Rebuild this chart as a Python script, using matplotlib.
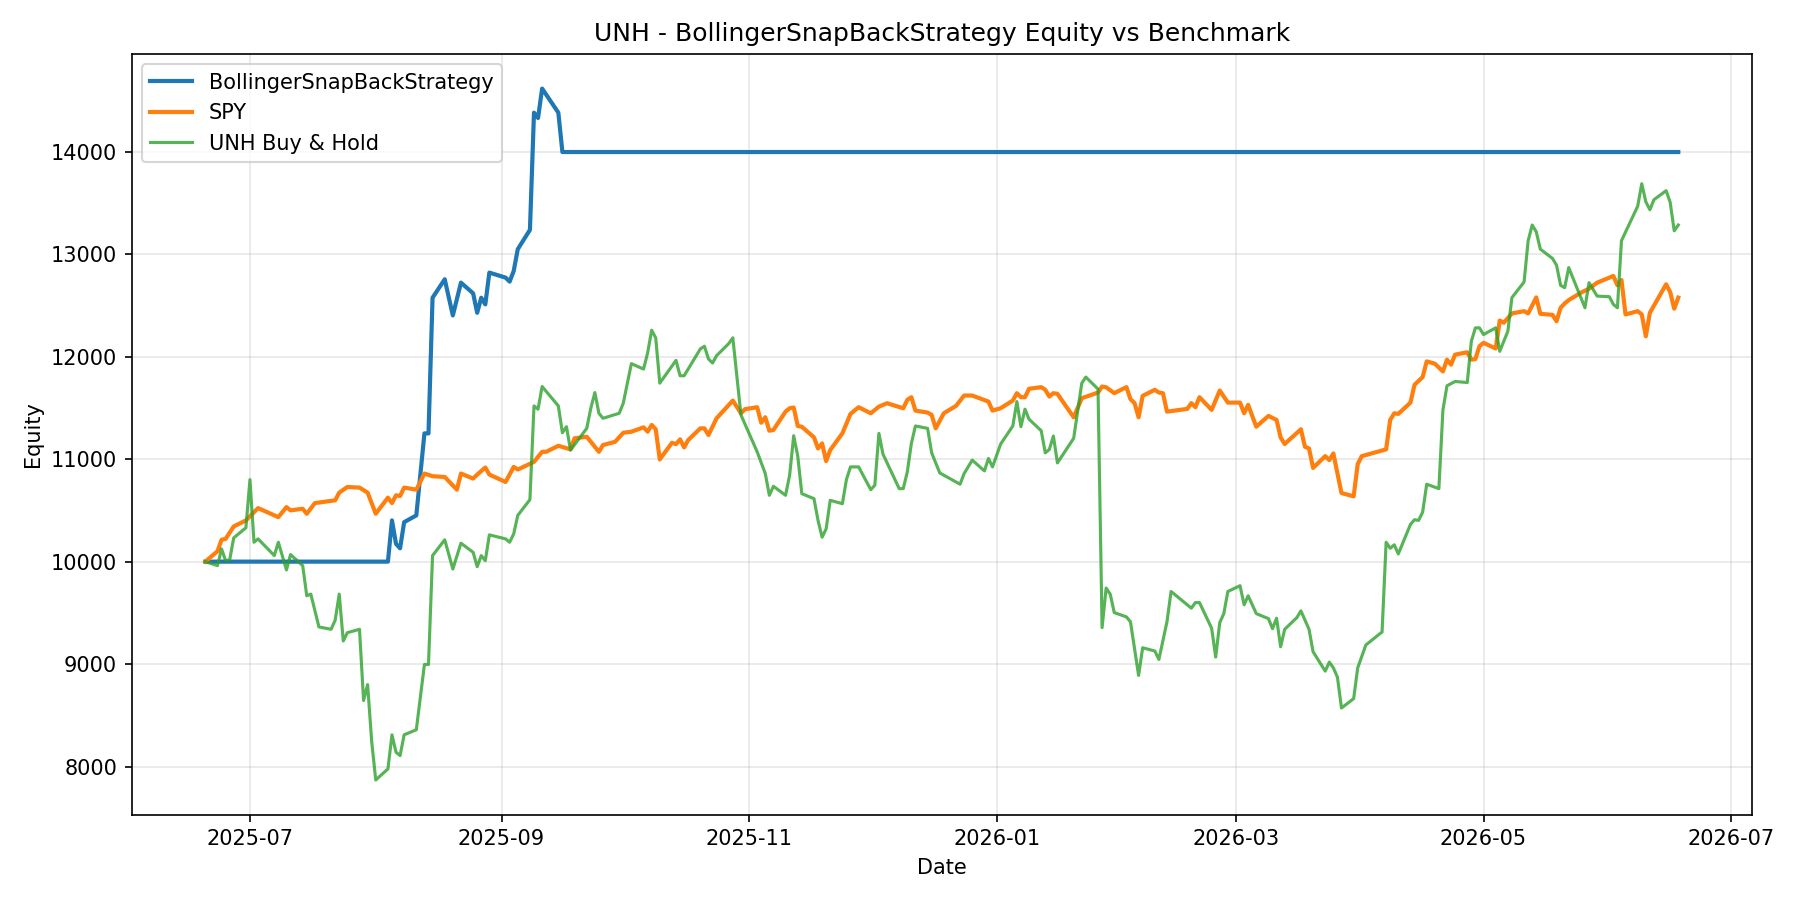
import matplotlib
matplotlib.use("Agg")
import matplotlib.pyplot as plt
import pandas as pd

# strategy equity (step points)
strat_dates = ["2025-06-20", "2025-08-04", "2025-08-05", "2025-08-06", "2025-08-07", "2025-08-08",
               "2025-08-11", "2025-08-13", "2025-08-14", "2025-08-15", "2025-08-18", "2025-08-20",
               "2025-08-22", "2025-08-25", "2025-08-26", "2025-08-27", "2025-08-28", "2025-08-29",
               "2025-09-02", "2025-09-03", "2025-09-04", "2025-09-05", "2025-09-08", "2025-09-09",
               "2025-09-10", "2025-09-11", "2025-09-15", "2025-09-16", "2026-06-18"]
strat_vals = [10000, 10000, 10402, 10173, 10130, 10385, 10451, 11251, 11251, 12574, 12754, 12401,
              12721, 12617, 12427, 12574, 12509, 12819, 12770, 12731, 12835, 13047, 13236, 14379,
              14327, 14614, 14379, 13995, 13995]

spy_dates = ["2025-06-20", "2025-06-23", "2025-06-24", "2025-06-25", "2025-06-27", "2025-06-30",
             "2025-07-03", "2025-07-08", "2025-07-10", "2025-07-11", "2025-07-14", "2025-07-15",
             "2025-07-17", "2025-07-22", "2025-07-23", "2025-07-25", "2025-07-28", "2025-07-30",
             "2025-08-01", "2025-08-04", "2025-08-05", "2025-08-06", "2025-08-07", "2025-08-08",
             "2025-08-11", "2025-08-13", "2025-08-15", "2025-08-18", "2025-08-21", "2025-08-22",
             "2025-08-25", "2025-08-26", "2025-08-28", "2025-08-29", "2025-09-02", "2025-09-04",
             "2025-09-05", "2025-09-09", "2025-09-11", "2025-09-12", "2025-09-15", "2025-09-18",
             "2025-09-19", "2025-09-22", "2025-09-25", "2025-09-26", "2025-09-29", "2025-10-01",
             "2025-10-03", "2025-10-06", "2025-10-07", "2025-10-08", "2025-10-09", "2025-10-10",
             "2025-10-13", "2025-10-14", "2025-10-15", "2025-10-16", "2025-10-17", "2025-10-20",
             "2025-10-21", "2025-10-22", "2025-10-24", "2025-10-28", "2025-10-30", "2025-10-31",
             "2025-11-03", "2025-11-04", "2025-11-05", "2025-11-06", "2025-11-07", "2025-11-10",
             "2025-11-11", "2025-11-12", "2025-11-13", "2025-11-14", "2025-11-17", "2025-11-18",
             "2025-11-19", "2025-11-20", "2025-11-21", "2025-11-24", "2025-11-26", "2025-11-28",
             "2025-12-01", "2025-12-03", "2025-12-05", "2025-12-09", "2025-12-10", "2025-12-11",
             "2025-12-12", "2025-12-15", "2025-12-16", "2025-12-17", "2025-12-19", "2025-12-22",
             "2025-12-24", "2025-12-26", "2025-12-30", "2025-12-31", "2026-01-02", "2026-01-05",
             "2026-01-06", "2026-01-07", "2026-01-08", "2026-01-09", "2026-01-12", "2026-01-13",
             "2026-01-14", "2026-01-15", "2026-01-16", "2026-01-20", "2026-01-22", "2026-01-26",
             "2026-01-27", "2026-01-28", "2026-01-30", "2026-02-02", "2026-02-03", "2026-02-04",
             "2026-02-05", "2026-02-06", "2026-02-09", "2026-02-10", "2026-02-11", "2026-02-12",
             "2026-02-17", "2026-02-18", "2026-02-19", "2026-02-20", "2026-02-23", "2026-02-25",
             "2026-02-27", "2026-03-02", "2026-03-03", "2026-03-04", "2026-03-06", "2026-03-09",
             "2026-03-11", "2026-03-12", "2026-03-13", "2026-03-17", "2026-03-18", "2026-03-19",
             "2026-03-20", "2026-03-23", "2026-03-24", "2026-03-25", "2026-03-27", "2026-03-30",
             "2026-03-31", "2026-04-01", "2026-04-07", "2026-04-08", "2026-04-09", "2026-04-10",
             "2026-04-13", "2026-04-14", "2026-04-16", "2026-04-17", "2026-04-19", "2026-04-21",
             "2026-04-22", "2026-04-23", "2026-04-24", "2026-04-27", "2026-04-28", "2026-04-29",
             "2026-04-30", "2026-05-01", "2026-05-04", "2026-05-05", "2026-05-06", "2026-05-08",
             "2026-05-11", "2026-05-12", "2026-05-14", "2026-05-15", "2026-05-18", "2026-05-19",
             "2026-05-20", "2026-05-21", "2026-05-22", "2026-05-25", "2026-05-27", "2026-05-29",
             "2026-06-02", "2026-06-03", "2026-06-04", "2026-06-05", "2026-06-08", "2026-06-09",
             "2026-06-10", "2026-06-11", "2026-06-15", "2026-06-16", "2026-06-17", "2026-06-18"]
spy_vals = [10000, 10101, 10213, 10222, 10343, 10402, 10522, 10434, 10532, 10500, 10516, 10467,
            10571, 10598, 10673, 10728, 10722, 10673, 10467, 10624, 10571, 10647, 10640, 10722,
            10702, 10859, 10833, 10826, 10702, 10859, 10810, 10849, 10918, 10849, 10777, 10924,
            10898, 10973, 11071, 11071, 11130, 11095, 11203, 11218, 11071, 11137, 11169, 11257,
            11267, 11310, 11267, 11333, 11291, 10997, 11159, 11146, 11193, 11114, 11186, 11300,
            11300, 11235, 11398, 11571, 11447, 11487, 11506, 11355, 11408, 11277, 11284, 11463,
            11496, 11503, 11323, 11316, 11212, 11104, 11153, 10980, 11088, 11251, 11441, 11506,
            11447, 11512, 11545, 11496, 11578, 11604, 11473, 11454, 11431, 11300, 11447, 11519,
            11620, 11620, 11561, 11473, 11496, 11571, 11643, 11604, 11604, 11686, 11702, 11676,
            11610, 11643, 11636, 11408, 11594, 11649, 11708, 11701, 11643, 11702, 11585, 11546,
            11408, 11617, 11676, 11649, 11643, 11463, 11490, 11546, 11506, 11604, 11480, 11669,
            11551, 11551, 11447, 11529, 11316, 11421, 11382, 11212, 11147, 11291, 11120, 11104,
            10914, 11029, 10990, 11055, 10669, 10637, 10951, 11029, 11095, 11382, 11447, 11441,
            11551, 11725, 11800, 11953, 11931, 11855, 11970, 11921, 12019, 12042, 11970, 11976,
            12101, 12134, 12079, 12352, 12330, 12421, 12443, 12421, 12577, 12417, 12407, 12345,
            12476, 12518, 12551, 12623, 12662, 12721, 12786, 12695, 12747, 12411, 12443, 12411,
            12198, 12427, 12705, 12630, 12467, 12575]

unh_dates = ["2025-06-20", "2025-06-23", "2025-06-24", "2025-06-25", "2025-06-26", "2025-06-27",
             "2025-06-30", "2025-07-01", "2025-07-02", "2025-07-03", "2025-07-07", "2025-07-08",
             "2025-07-10", "2025-07-11", "2025-07-14", "2025-07-15", "2025-07-16", "2025-07-18",
             "2025-07-21", "2025-07-22", "2025-07-23", "2025-07-24", "2025-07-25", "2025-07-28",
             "2025-07-29", "2025-07-30", "2025-07-31", "2025-08-01", "2025-08-04", "2025-08-05",
             "2025-08-06", "2025-08-07", "2025-08-08", "2025-08-11", "2025-08-13", "2025-08-14",
             "2025-08-15", "2025-08-18", "2025-08-20", "2025-08-22", "2025-08-25", "2025-08-26",
             "2025-08-27", "2025-08-28", "2025-08-29", "2025-09-02", "2025-09-03", "2025-09-04",
             "2025-09-05", "2025-09-08", "2025-09-09", "2025-09-10", "2025-09-11", "2025-09-15",
             "2025-09-16", "2025-09-17", "2025-09-18", "2025-09-22", "2025-09-23", "2025-09-24",
             "2025-09-25", "2025-09-26", "2025-09-30", "2025-10-01", "2025-10-03", "2025-10-06",
             "2025-10-07", "2025-10-08", "2025-10-09", "2025-10-10", "2025-10-14", "2025-10-15",
             "2025-10-16", "2025-10-20", "2025-10-21", "2025-10-22", "2025-10-23", "2025-10-24",
             "2025-10-27", "2025-10-28", "2025-10-30", "2025-11-03", "2025-11-05", "2025-11-06",
             "2025-11-07", "2025-11-10", "2025-11-11", "2025-11-12", "2025-11-13", "2025-11-14",
             "2025-11-17", "2025-11-18", "2025-11-19", "2025-11-20", "2025-11-21", "2025-11-24",
             "2025-11-25", "2025-11-26", "2025-11-28", "2025-12-01", "2025-12-02", "2025-12-03",
             "2025-12-04", "2025-12-08", "2025-12-09", "2025-12-10", "2025-12-11", "2025-12-12",
             "2025-12-15", "2025-12-16", "2025-12-17", "2025-12-18", "2025-12-23", "2025-12-24",
             "2025-12-26", "2025-12-29", "2025-12-30", "2025-12-31", "2026-01-02", "2026-01-05",
             "2026-01-06", "2026-01-07", "2026-01-08", "2026-01-09", "2026-01-12", "2026-01-13",
             "2026-01-14", "2026-01-15", "2026-01-16", "2026-01-20", "2026-01-22", "2026-01-23",
             "2026-01-26", "2026-01-27", "2026-01-28", "2026-01-29", "2026-01-30", "2026-02-02",
             "2026-02-03", "2026-02-05", "2026-02-06", "2026-02-09", "2026-02-10", "2026-02-12",
             "2026-02-13", "2026-02-18", "2026-02-19", "2026-02-20", "2026-02-23", "2026-02-24",
             "2026-02-25", "2026-02-26", "2026-02-27", "2026-03-02", "2026-03-03", "2026-03-04",
             "2026-03-06", "2026-03-09", "2026-03-10", "2026-03-11", "2026-03-12", "2026-03-13",
             "2026-03-16", "2026-03-17", "2026-03-19", "2026-03-20", "2026-03-23", "2026-03-24",
             "2026-03-25", "2026-03-26", "2026-03-27", "2026-03-30", "2026-03-31", "2026-04-02",
             "2026-04-06", "2026-04-07", "2026-04-08", "2026-04-09", "2026-04-10", "2026-04-13",
             "2026-04-14", "2026-04-15", "2026-04-16", "2026-04-17", "2026-04-20", "2026-04-21",
             "2026-04-22", "2026-04-24", "2026-04-27", "2026-04-28", "2026-04-29", "2026-04-30",
             "2026-05-01", "2026-05-04", "2026-05-05", "2026-05-07", "2026-05-08", "2026-05-11",
             "2026-05-12", "2026-05-13", "2026-05-14", "2026-05-15", "2026-05-18", "2026-05-19",
             "2026-05-20", "2026-05-21", "2026-05-22", "2026-05-26", "2026-05-27", "2026-05-29",
             "2026-06-01", "2026-06-02", "2026-06-03", "2026-06-04", "2026-06-08", "2026-06-09",
             "2026-06-10", "2026-06-11", "2026-06-12", "2026-06-15", "2026-06-16", "2026-06-17",
             "2026-06-18"]
unh_vals = [10000, 9961, 10124, 10010, 10016, 10232, 10330, 10800, 10189, 10222, 10059, 10189,
            9919, 10069, 9961, 9667, 9683, 9363, 9340, 9429, 9683, 9226, 9307, 9340,
            8645, 8801, 8246, 7870, 7978, 8311, 8141, 8108, 8311, 8360, 8997, 8997,
            10059, 10213, 9928, 10180, 10091, 9951, 10059, 10010, 10261, 10222, 10189, 10271,
            10451, 10605, 11519, 11487, 11708, 11519, 11257, 11316, 11088, 11300, 11496, 11649,
            11447, 11398, 11447, 11545, 11931, 11878, 12035, 12257, 12182, 11741, 11963, 11813,
            11813, 12075, 12101, 11977, 11937, 12009, 12127, 12183, 11431, 11071, 10859, 10647,
            10735, 10647, 10843, 11228, 11029, 10663, 10614, 10402, 10238, 10320, 10598, 10565,
            10801, 10924, 10924, 10702, 10745, 11251, 11049, 10712, 10712, 10875, 11153, 11323,
            11300, 11061, 10963, 10865, 10755, 10859, 10990, 10885, 11006, 10924, 11147, 11323,
            11561, 11316, 11487, 11389, 11277, 11061, 11094, 11225, 10963, 11203, 11741, 11800,
            11683, 9356, 9742, 9683, 9503, 9461, 9412, 8890, 9160, 9128, 9046, 9415,
            9709, 9546, 9601, 9601, 9350, 9069, 9405, 9493, 9709, 9765, 9579, 9667,
            9493, 9444, 9346, 9448, 9170, 9340, 9454, 9520, 9340, 9121, 8932, 9020,
            8964, 8873, 8572, 8664, 8964, 9187, 9314, 10189, 10130, 10164, 10075, 10363,
            10409, 10402, 10483, 10755, 10712, 11480, 11715, 11757, 11747, 12149, 12280, 12280,
            12215, 12280, 12051, 12247, 12575, 12728, 13130, 13283, 13217, 13048, 12957, 12891,
            12695, 12672, 12868, 12476, 12721, 12590, 12584, 12509, 12476, 13130, 13467, 13686,
            13510, 13432, 13530, 13618, 13505, 13227, 13283]

strategy_name = "BollingerSnapBackStrategy"
ticker = "UNH"

fig, ax = plt.subplots(figsize=(12, 6), dpi=150)
ax.plot(pd.to_datetime(strat_dates), strat_vals, label=strategy_name, linewidth=2)
ax.plot(pd.to_datetime(spy_dates), spy_vals, label="SPY", linewidth=2)
ax.plot(pd.to_datetime(unh_dates), unh_vals, label=f"{ticker} Buy & Hold", linewidth=1.5, alpha=0.8)

ax.set_title(f"{ticker} - {strategy_name} Equity vs Benchmark")
ax.set_xlabel("Date")
ax.set_ylabel("Equity")
ax.grid(True, alpha=0.3)
ax.legend(loc="upper left")
fig.tight_layout()
fig.savefig("out.png")
